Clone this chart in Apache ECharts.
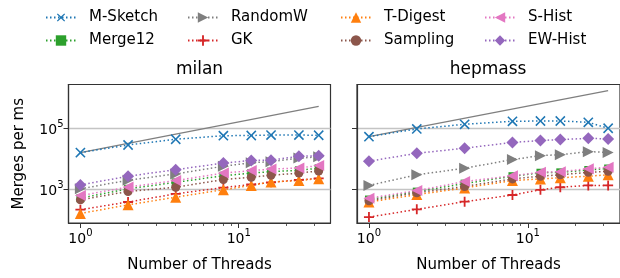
<!DOCTYPE html>
<html>
<head>
<meta charset="utf-8">
<script src="https://cdn.jsdelivr.net/npm/echarts@6/dist/echarts.min.js"></script>
<style>
html, body { margin: 0; padding: 0; background: #fff; }
#main { width: 620px; height: 278px; }
</style>
</head>
<body>
<div id="main"></div>
<script>
// thread counts (x)
var threads = [1, 2, 4, 8, 12, 16, 24, 32];
var idealThreads = [1, 32];

// milan, merges per ms
var milanMSketch  = [15800, 28000, 43000, 56000, 57000, 59000, 59000, 58000];
var milanMerge12  = [520, 1050, 1700, 2800, 3400, 3800, 4200, 4900];
var milanRandomW  = [1050, 2000, 3200, 5700, 7400, 8000, 10500, 11500];
var milanGK       = [220, 390, 720, 1150, 1450, 1700, 2050, 2300];
var milanTDigest  = [165, 315, 560, 980, 1350, 1750, 1950, 2250];
var milanSampling = [460, 860, 1180, 2100, 2500, 2900, 3400, 4000];
var milanSHist    = [630, 1200, 1950, 3400, 4100, 4600, 5000, 6000];
var milanEWHist   = [1400, 2700, 4400, 7200, 8800, 9000, 12000, 12500];
var milanIdeal    = [15800, 505000];

// hepmass, merges per ms
var hepMSketch  = [52000, 93000, 132000, 165000, 169000, 169000, 153000, 98000];
var hepMerge12  = [470, 850, 1550, 2700, 3500, 3600, 4300, 4800];
var hepRandomW  = [1350, 3000, 4900, 9400, 12600, 13500, 17000, 16000];
var hepGK       = [126, 225, 400, 660, 970, 1180, 1350, 1350];
var hepTDigest  = [390, 680, 1120, 1950, 2200, 2400, 2700, 3000];
var hepSampling = [430, 780, 1250, 2200, 2700, 3000, 3600, 3900];
var hepSHist    = [520, 920, 1800, 2800, 3600, 3800, 4700, 5300];
var hepEWHist   = [8300, 15000, 22000, 34000, 39000, 42000, 46000, 44000];
var hepIdeal    = [52000, 1650000];

// tick values
var xMajorTicks = [1, 10];
var xMinorTicks = [2, 3, 4, 5, 6, 7, 8, 9, 20, 30];
var yTicks = [1000, 100000];

var names = ['M-Sketch', 'Merge12', 'RandomW', 'GK', 'T-Digest', 'Sampling', 'S-Hist', 'EW-Hist'];
var milanData = [milanMSketch, milanMerge12, milanRandomW, milanGK, milanTDigest, milanSampling, milanSHist, milanEWHist];
var hepData = [hepMSketch, hepMerge12, hepRandomW, hepGK, hepTDigest, hepSampling, hepSHist, hepEWHist];

var plusPath = 'path://M4.1,0H5.9V4.1H10V5.9H5.9V10H4.1V5.9H0V4.1H4.1Z';
var xPath = 'path://M4.4,0H5.6V4.4H10V5.6H5.6V10H4.4V5.6H0V4.4H4.4Z';

// marker look per series
var styles = {
    'M-Sketch': {color: '#1f77b4', symbol: xPath, size: 13, rotate: 45},
    'Merge12':  {color: '#2ca02c', symbol: 'rect', size: 8, rotate: 0},
    'RandomW':  {color: '#7f7f7f', symbol: 'triangle', size: 11, rotate: -90},
    'GK':       {color: '#d62728', symbol: plusPath, size: 10, rotate: 0},
    'T-Digest': {color: '#ff7f0e', symbol: 'triangle', size: 11, rotate: 0},
    'Sampling': {color: '#8c564b', symbol: 'circle', size: 9, rotate: 0},
    'S-Hist':   {color: '#e377c2', symbol: 'triangle', size: 11, rotate: 90},
    'EW-Hist':  {color: '#9467bd', symbol: 'diamond', size: 12, rotate: 0}
};

var font = 'DejaVu Sans';
var frameColor = '#333';

function pow10Label(v) {
    var e = Math.round(Math.log(v) / Math.LN10);
    return '{b|10}{e|' + e + '}';
}
var richTick = {
    b: {fontSize: 14, fontFamily: font, color: '#000', lineHeight: 18, verticalAlign: 'bottom'},
    e: {fontSize: 10, fontFamily: font, color: '#000', lineHeight: 18, verticalAlign: 'top', padding: [0, 0, 6, 0]}
};

var chart = echarts.init(document.getElementById('main'));

var grids = [
    {left: 68.5, top: 84.5, width: 262, height: 140},
    {left: 357, top: 84.5, width: 264, height: 140}
];

var xAxes = [];
var yAxes = [];
for (var g = 0; g < 2; g++) {
    grids[g].show = true;
    grids[g].borderColor = frameColor;
    grids[g].borderWidth = 1.2;
    grids[g].backgroundColor = 'transparent';
    // major x axis
    xAxes.push({
        type: 'log', gridIndex: g, position: 'bottom',
        min: 0.841, max: 38,
        name: 'Number of Threads', nameLocation: 'middle', nameGap: 35,
        nameTextStyle: {fontSize: 15, fontFamily: font, color: '#000'},
        axisLine: {show: true, lineStyle: {color: frameColor, width: 1.2}},
        axisTick: {show: true, length: 5, customValues: xMajorTicks, lineStyle: {color: frameColor, width: 1}},
        axisLabel: {show: true, margin: 5, customValues: xMajorTicks, formatter: pow10Label, rich: richTick},
        splitLine: {show: false}
    });
    // minor x ticks
    xAxes.push({
        type: 'log', gridIndex: g, position: 'bottom',
        min: 0.841, max: 38,
        axisLine: {show: false},
        axisTick: {show: true, length: 3, customValues: xMinorTicks, lineStyle: {color: frameColor, width: 0.8}},
        axisLabel: {show: false},
        splitLine: {show: false}
    });
    yAxes.push({
        type: 'log', gridIndex: g,
        min: 81, max: 2600000,
        name: g === 0 ? 'Merges per ms' : '',
        nameLocation: 'middle', nameGap: 42,
        nameTextStyle: {fontSize: 15, fontFamily: font, color: '#000'},
        axisLine: {show: true, lineStyle: {color: frameColor, width: 1.2}},
        axisTick: {show: true, length: 5, customValues: yTicks, lineStyle: {color: frameColor, width: 1}},
        axisLabel: {show: g === 0, margin: 5, customValues: yTicks, formatter: pow10Label, rich: richTick},
        splitLine: {show: true, lineStyle: {color: '#c4c4c4', width: 1.3}}
    });
}

function pairs(xs, ys) {
    var out = [];
    for (var i = 0; i < xs.length; i++) out.push([xs[i], ys[i]]);
    return out;
}

var series = [];
var sets = [milanData, hepData];
var ideals = [milanIdeal, hepIdeal];
for (var g = 0; g < 2; g++) {
    // ideal linear scaling
    series.push({
        name: 'ideal', type: 'line', xAxisIndex: g * 2, yAxisIndex: g,
        data: pairs(idealThreads, ideals[g]),
        showSymbol: false, symbol: 'none', silent: true,
        lineStyle: {color: '#7f7f7f', width: 1.3, type: 'solid'}
    });
    for (var i = 0; i < names.length; i++) {
        var s = styles[names[i]];
        series.push({
            name: names[i], type: 'line', xAxisIndex: g * 2, yAxisIndex: g,
            data: pairs(threads, sets[g][i]),
            symbol: s.symbol, symbolSize: s.size, symbolRotate: s.rotate,
            showAllSymbol: true,
            itemStyle: {color: s.color, borderWidth: 0},
            lineStyle: {color: s.color, width: 1.5, type: [1.5, 2.5]},
            animation: false
        });
    }
}

// legend columns, two entries each
var legendCols = [['M-Sketch', 'Merge12'], ['RandomW', 'GK'], ['T-Digest', 'Sampling'], ['S-Hist', 'EW-Hist']];
var legendLeft = [45, 187, 340, 484];
var legends = [];
for (var c = 0; c < legendCols.length; c++) {
    legends.push({
        data: legendCols[c], orient: 'vertical', left: legendLeft[c], top: 10,
        padding: 0, itemGap: 8, itemWidth: 30, itemHeight: 13,
        textStyle: {fontSize: 15, fontFamily: font, color: '#000', padding: [0, 0, 0, 8]}
    });
}

var option = {
    backgroundColor: '#fff',
    animation: false,
    title: [
        {text: 'milan', left: 199.5, top: 61, textAlign: 'center', padding: 0,
            textStyle: {fontSize: 17, fontWeight: 'normal', fontFamily: font, color: '#000'}},
        {text: 'hepmass', left: 488, top: 61, textAlign: 'center', padding: 0,
            textStyle: {fontSize: 17, fontWeight: 'normal', fontFamily: font, color: '#000'}}
    ],
    legend: legends,
    grid: grids,
    xAxis: xAxes,
    yAxis: yAxes,
    series: series
};
chart.setOption(option);
</script>
</body>
</html>
